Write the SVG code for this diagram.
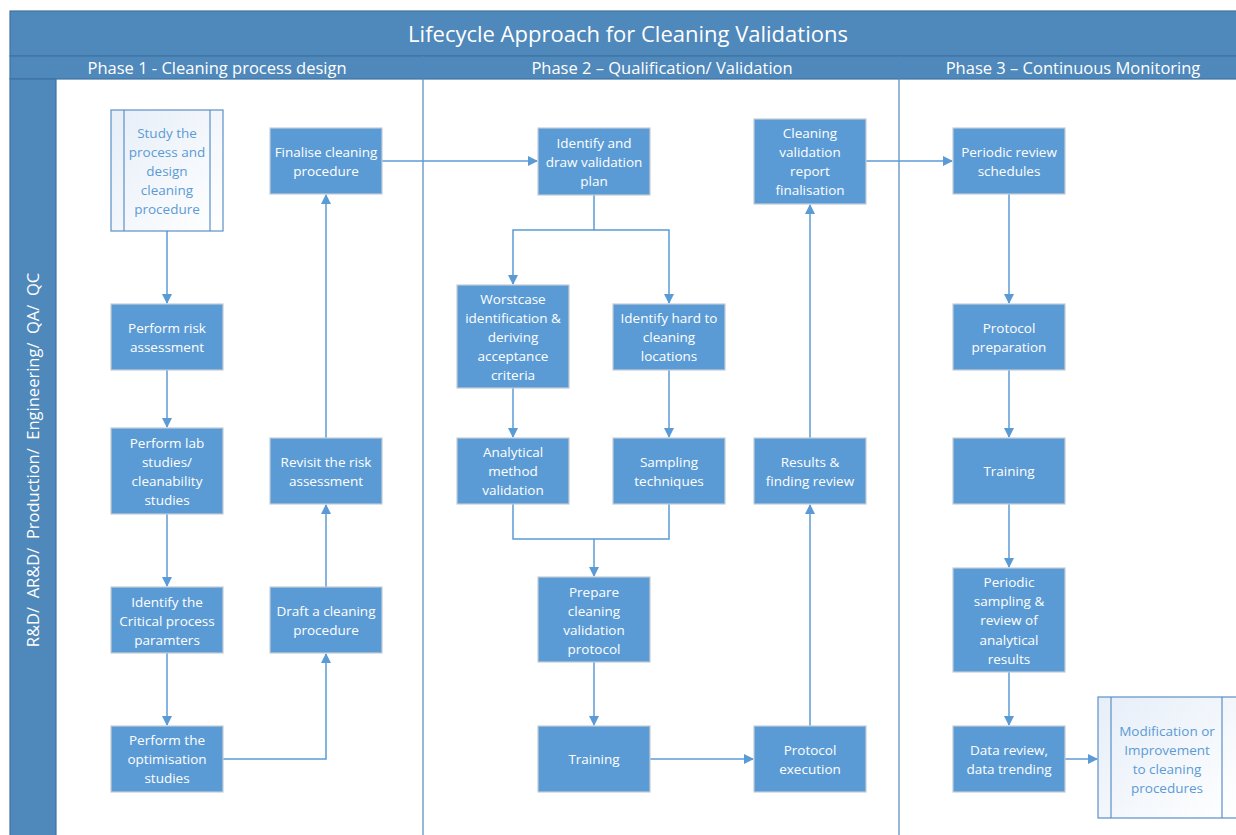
<svg xmlns="http://www.w3.org/2000/svg" width="1236" height="835" viewBox="0 0 1236 835">
<defs>
<marker id="ah" markerWidth="10" markerHeight="10" refX="9" refY="5" orient="auto" markerUnits="userSpaceOnUse">
<path d="M0,0 L10,5 L0,10 Z" fill="#5b9bd5"/>
</marker>
<linearGradient id="pg" x1="0" y1="0" x2="1" y2="1">
<stop offset="0" stop-color="#e6eef8"/>
<stop offset="1" stop-color="#ffffff"/>
</linearGradient>
<style>
.hdr{fill:#4f88bb;stroke:#3f73a3;stroke-width:1.2}
.ht{font-family:"Open Sans","Liberation Sans",sans-serif;fill:#ffffff}
.box{fill:#5b9bd5;stroke:#c3ccd6;stroke-width:1.2}
.bt{font-family:"Open Sans","Liberation Sans",sans-serif;font-size:13.5px;fill:#ffffff;text-anchor:middle;dominant-baseline:central}
.pp{fill:url(#pg);stroke:#5b8fc7;stroke-width:1.2}
.pt{font-family:"Open Sans","Liberation Sans",sans-serif;font-size:13.5px;fill:#5b9bd5;text-anchor:middle;dominant-baseline:central}
.cn{fill:none;stroke:#5b9bd5;stroke-width:1.5}
.div{stroke:#4f88bb;stroke-width:1.2}
</style>
</defs>
<rect x="0" y="0" width="1236" height="835" fill="#ffffff"/>
<!-- pool -->
<g id="pool">
<rect class="hdr" x="10" y="11" width="1232" height="45"/>
<text class="ht" x="628" y="42" font-size="22" text-anchor="middle">Lifecycle Approach for Cleaning Validations</text>
<rect class="hdr" x="10" y="56" width="1232" height="23"/>
<text class="ht" x="217" y="74" font-size="16.5" text-anchor="middle">Phase 1 - Cleaning process design</text>
<text class="ht" x="662" y="74" font-size="16.5" text-anchor="middle">Phase 2 – Qualification/ Validation</text>
<text class="ht" x="1073" y="74" font-size="16.5" text-anchor="middle">Phase 3 – Continuous Monitoring</text>
<rect class="hdr" x="10" y="79" width="46" height="760"/>
<text class="ht" font-size="16.5" text-anchor="middle" xml:space="preserve" style="white-space:pre" transform="translate(39,460) rotate(-90)">R&amp;D/  AR&amp;D/  Production/  Engineering/  QA/  QC</text>
<line class="div" x1="423" y1="56" x2="423" y2="835"/>
<line class="div" x1="899" y1="56" x2="899" y2="835"/>
</g>
<!-- connectors -->
<g id="connectors">
<path class="cn" d="M167,231 V303" marker-end="url(#ah)"/>
<path class="cn" d="M167,370 V427" marker-end="url(#ah)"/>
<path class="cn" d="M167,514 V586" marker-end="url(#ah)"/>
<path class="cn" d="M167,653 V725" marker-end="url(#ah)"/>
<path class="cn" d="M223,759 H326 V654" marker-end="url(#ah)"/>
<path class="cn" d="M326,587 V505" marker-end="url(#ah)"/>
<path class="cn" d="M326,438 V195" marker-end="url(#ah)"/>
<path class="cn" d="M382,161 H537" marker-end="url(#ah)"/>
<path class="cn" d="M594,195 V230 H513 V284" marker-end="url(#ah)"/>
<path class="cn" d="M594,230 H669 V303" marker-end="url(#ah)"/>
<path class="cn" d="M513,388 V437" marker-end="url(#ah)"/>
<path class="cn" d="M669,370 V437" marker-end="url(#ah)"/>
<path class="cn" d="M513,504 V539 H669 V504"/>
<path class="cn" d="M594,539 V576" marker-end="url(#ah)"/>
<path class="cn" d="M594,662 V725" marker-end="url(#ah)"/>
<path class="cn" d="M650,759 H753" marker-end="url(#ah)"/>
<path class="cn" d="M810,726 V505" marker-end="url(#ah)"/>
<path class="cn" d="M810,438 V205" marker-end="url(#ah)"/>
<path class="cn" d="M866,161 H952" marker-end="url(#ah)"/>
<path class="cn" d="M1009,194 V303" marker-end="url(#ah)"/>
<path class="cn" d="M1009,370 V437" marker-end="url(#ah)"/>
<path class="cn" d="M1009,504 V567" marker-end="url(#ah)"/>
<path class="cn" d="M1009,672 V725" marker-end="url(#ah)"/>
<path class="cn" d="M1065,759 H1097" marker-end="url(#ah)"/>
</g>
<!-- Phase 1 -->
<g id="study">
<rect class="pp" x="111" y="110" width="112" height="121"/>
<line x1="124" y1="110" x2="124" y2="231" stroke="#5b8fc7" stroke-width="1.2"/>
<line x1="210" y1="110" x2="210" y2="231" stroke="#5b8fc7" stroke-width="1.2"/>
<text class="pt"><tspan x="167" y="133">Study the</tspan><tspan x="167" y="152">process and</tspan><tspan x="167" y="171">design</tspan><tspan x="167" y="190">cleaning</tspan><tspan x="167" y="209">procedure</tspan></text>
</g>
<g id="risk">
<rect class="box" x="111" y="304" width="112" height="66"/>
<text class="bt"><tspan x="167" y="328">Perform risk</tspan><tspan x="167" y="347">assessment</tspan></text>
</g>
<g id="lab">
<rect class="box" x="111" y="428" width="112" height="86"/>
<text class="bt"><tspan x="167" y="443">Perform lab</tspan><tspan x="167" y="462">studies/</tspan><tspan x="167" y="481">cleanability</tspan><tspan x="167" y="500">studies</tspan></text>
</g>
<g id="cpp">
<rect class="box" x="111" y="587" width="112" height="66"/>
<text class="bt"><tspan x="167" y="602">Identify the</tspan><tspan x="167" y="621">Critical process</tspan><tspan x="167" y="640">paramters</tspan></text>
</g>
<g id="optim">
<rect class="box" x="111" y="726" width="112" height="66"/>
<text class="bt"><tspan x="167" y="740">Perform the</tspan><tspan x="167" y="759">optimisation</tspan><tspan x="167" y="778">studies</tspan></text>
</g>
<g id="finalise">
<rect class="box" x="270" y="128" width="112" height="66"/>
<text class="bt"><tspan x="326" y="152">Finalise cleaning</tspan><tspan x="326" y="171">procedure</tspan></text>
</g>
<g id="revisit">
<rect class="box" x="270" y="438" width="112" height="66"/>
<text class="bt"><tspan x="326" y="462">Revisit the risk</tspan><tspan x="326" y="481">assessment</tspan></text>
</g>
<g id="draft">
<rect class="box" x="270" y="587" width="112" height="66"/>
<text class="bt"><tspan x="326" y="611">Draft a cleaning</tspan><tspan x="326" y="630">procedure</tspan></text>
</g>
<!-- Phase 2 -->
<g id="plan">
<rect class="box" x="538" y="128" width="112" height="67"/>
<text class="bt"><tspan x="594" y="143">Identify and</tspan><tspan x="594" y="162">draw validation</tspan><tspan x="594" y="181">plan</tspan></text>
</g>
<g id="worst">
<rect class="box" x="457" y="285" width="112" height="103"/>
<text class="bt"><tspan x="513" y="299">Worstcase</tspan><tspan x="513" y="318">identification &amp;</tspan><tspan x="513" y="337">deriving</tspan><tspan x="513" y="356">acceptance</tspan><tspan x="513" y="375">criteria</tspan></text>
</g>
<g id="hard">
<rect class="box" x="613" y="304" width="112" height="66"/>
<text class="bt"><tspan x="669" y="318">Identify hard to</tspan><tspan x="669" y="337">cleaning</tspan><tspan x="669" y="356">locations</tspan></text>
</g>
<g id="analytical">
<rect class="box" x="457" y="438" width="112" height="66"/>
<text class="bt"><tspan x="513" y="452">Analytical</tspan><tspan x="513" y="471">method</tspan><tspan x="513" y="490">validation</tspan></text>
</g>
<g id="sampling">
<rect class="box" x="613" y="438" width="112" height="66"/>
<text class="bt"><tspan x="669" y="462">Sampling</tspan><tspan x="669" y="481">techniques</tspan></text>
</g>
<g id="prepare">
<rect class="box" x="538" y="577" width="112" height="85"/>
<text class="bt"><tspan x="594" y="592">Prepare</tspan><tspan x="594" y="611">cleaning</tspan><tspan x="594" y="630">validation</tspan><tspan x="594" y="649">protocol</tspan></text>
</g>
<g id="training2">
<rect class="box" x="538" y="726" width="112" height="66"/>
<text class="bt"><tspan x="594" y="759">Training</tspan></text>
</g>
<g id="execution">
<rect class="box" x="754" y="726" width="112" height="66"/>
<text class="bt"><tspan x="810" y="750">Protocol</tspan><tspan x="810" y="769">execution</tspan></text>
</g>
<g id="results">
<rect class="box" x="754" y="438" width="112" height="66"/>
<text class="bt"><tspan x="810" y="462">Results &amp;</tspan><tspan x="810" y="481">finding review</tspan></text>
</g>
<g id="report">
<rect class="box" x="754" y="119" width="112" height="85"/>
<text class="bt"><tspan x="810" y="133">Cleaning</tspan><tspan x="810" y="152">validation</tspan><tspan x="810" y="171">report</tspan><tspan x="810" y="190">finalisation</tspan></text>
</g>
<!-- Phase 3 -->
<g id="periodic">
<rect class="box" x="953" y="128" width="112" height="66"/>
<text class="bt"><tspan x="1009" y="152">Periodic review</tspan><tspan x="1009" y="171">schedules</tspan></text>
</g>
<g id="protprep">
<rect class="box" x="953" y="304" width="112" height="66"/>
<text class="bt"><tspan x="1009" y="328">Protocol</tspan><tspan x="1009" y="347">preparation</tspan></text>
</g>
<g id="training3">
<rect class="box" x="953" y="438" width="112" height="66"/>
<text class="bt"><tspan x="1009" y="471">Training</tspan></text>
</g>
<g id="periodicsampling">
<rect class="box" x="953" y="568" width="112" height="104"/>
<text class="bt"><tspan x="1009" y="582">Periodic</tspan><tspan x="1009" y="601">sampling &amp;</tspan><tspan x="1009" y="620">review of</tspan><tspan x="1009" y="640">analytical</tspan><tspan x="1009" y="659">results</tspan></text>
</g>
<g id="datareview">
<rect class="box" x="953" y="726" width="112" height="66"/>
<text class="bt"><tspan x="1009" y="750">Data review,</tspan><tspan x="1009" y="769">data trending</tspan></text>
</g>
<g id="modification">
<rect class="pp" x="1098" y="697" width="142" height="121"/>
<line x1="1111" y1="697" x2="1111" y2="818" stroke="#5b8fc7" stroke-width="1.2"/>
<line x1="1222" y1="697" x2="1222" y2="818" stroke="#5b8fc7" stroke-width="1.2"/>
<text class="pt"><tspan x="1167" y="731">Modification or</tspan><tspan x="1167" y="750">Improvement</tspan><tspan x="1167" y="769">to cleaning</tspan><tspan x="1167" y="788">procedures</tspan></text>
</g>
</svg>
